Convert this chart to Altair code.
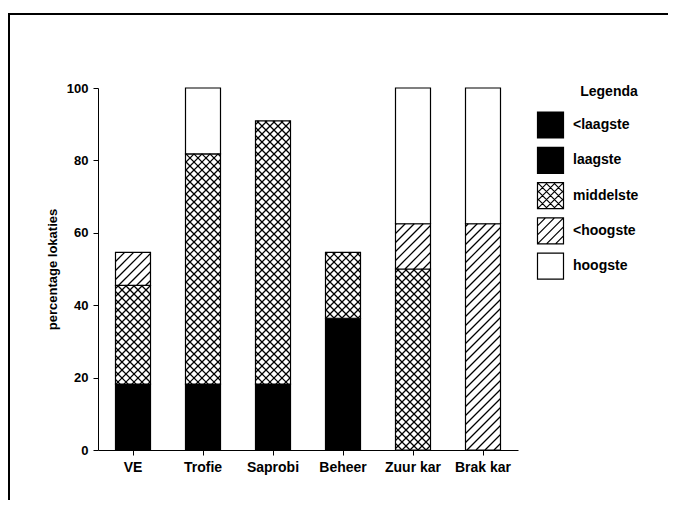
import math
import altair as alt
import pandas as pd

# ---------------- data ----------------
categories = ["VE", "Trofie", "Saprobi", "Beheer", "Zuur kar", "Brak kar"]
klassen = ["<laagste", "laagste", "middelste", "<hoogste", "hoogste"]
v_lt_laagste = [0, 0, 0, 0, 0, 0]
v_laagste = [18.2, 18.2, 18.2, 36.4, 0, 0]
v_middelste = [27.3, 63.6, 72.7, 18.2, 50.0, 0]
v_lt_hoogste = [9.1, 0, 0, 0, 12.5, 62.5]
v_hoogste = [0, 18.2, 0, 0, 37.5, 37.5]
y_ticks = [0, 20, 40, 60, 80, 100]

# ---------------- layout / style ----------------
W, H = 420, 362
N = len(categories)
FONT = "Liberation Sans"
fills = ["black", "black", "white", "white", "white"]
patterns = {"middelste": [("/", 8), ("\\", 8)], "<hoogste": [("/", 9)]}

series = dict(zip(klassen, [v_lt_laagste, v_laagste, v_middelste, v_lt_hoogste, v_hoogste]))

# stacked segments
rows = []
for i, c in enumerate(categories):
    base = 0.0
    for k in klassen:
        v = series[k][i]
        if v > 0:
            rows.append({"cat": c, "idx": i, "klasse": k, "lo": base, "hi": base + v})
        base += v
seg = pd.DataFrame(rows)

# hatch lines, in data units (x: band units 0..N, y: percent)
sx, sy = W / N, H / 100.0


def hatch(X0, X1, Y0, Y1, d, p):
    out = []
    if d == "/":
        for k in range(math.ceil((Y0 - X1) / p), math.floor((Y1 - X0) / p) + 1):
            c = k * p
            lo, hi = max(X0, Y0 - c), min(X1, Y1 - c)
            if hi - lo > 0.4:
                out.append((lo, lo + c, hi, hi + c))
    else:
        for k in range(math.ceil((X0 + Y0) / p), math.floor((X1 + Y1) / p) + 1):
            c = k * p
            lo, hi = max(X0, c - Y1), min(X1, c - Y0)
            if hi - lo > 0.4:
                out.append((lo, c - lo, hi, c - hi))
    return out


hrows = []
for r in rows:
    if r["klasse"] not in patterns:
        continue
    X0, X1 = (r["idx"] + 0.25) * sx, (r["idx"] + 0.75) * sx
    Y0, Y1 = r["lo"] * sy, r["hi"] * sy
    for d, p in patterns[r["klasse"]]:
        for (a, b, c2, e) in hatch(X0, X1, Y0, Y1, d, p):
            hrows.append({"x1": a / sx, "lo": b / sy, "x2": c2 / sx, "hi": e / sy})
hdf = pd.DataFrame(hrows)


# legend symbol paths (unit square [-1,1])
def sym_path(pats, half=13.0):
    s = "M-1,-1L1,-1L1,1L-1,1Z"
    for d, p in pats:
        pu = p / half
        kmax = int(2 / pu) + 1
        for k in range(-kmax, kmax + 1):
            c = k * pu
            if d == "/":  # screen: x + y = c
                a, b = max(-1, c - 1), min(1, c + 1)
                if b - a > 0.05:
                    s += f"M{a:.3f},{c - a:.3f}L{b:.3f},{c - b:.3f}"
            else:  # screen: y - x = c
                a, b = max(-1, -1 - c), min(1, 1 - c)
                if b - a > 0.05:
                    s += f"M{a:.3f},{a + c:.3f}L{b:.3f},{b + c:.3f}"
    return s


paths = [sym_path(patterns.get(k, [])) for k in klassen]
leg = pd.DataFrame({"klasse": klassen, "ly": [37 + 35.3 * i for i in range(len(klassen))]})

fill_scale = alt.Scale(domain=klassen, range=fills)
y_scale = alt.Scale(domain=[0, 100], nice=False)
y_axis = alt.Axis(title="percentage lokaties", values=y_ticks, grid=False,
                  labelFontSize=13, labelPadding=5, titleFontSize=13, titlePadding=7)

bars = alt.Chart(seg).mark_bar(stroke="black", strokeWidth=1.2, strokeJoin="miter").encode(
    x=alt.X("cat:N", sort=categories,
            scale=alt.Scale(paddingInner=0.5, paddingOuter=0.25),
            axis=alt.Axis(title=None, labelAngle=0, labelFontSize=14, labelPadding=5)),
    y=alt.Y("lo:Q", scale=y_scale, axis=y_axis),
    y2="hi:Q",
    fill=alt.Fill("klasse:N", scale=fill_scale, legend=None),
)

hatch_layer = alt.Chart(hdf).mark_rule(color="black", strokeWidth=1.25).encode(
    x=alt.X("x1:Q", scale=alt.Scale(domain=[0, N], nice=False, zero=False), axis=None),
    x2="x2:Q",
    y=alt.Y("lo:Q", scale=y_scale, axis=y_axis),
    y2="hi:Q",
)

leg_pts = alt.Chart(leg).mark_point(filled=True, opacity=1, stroke="black", strokeWidth=1.2).encode(
    x=alt.value(452.5),
    y=alt.Y("ly:Q", scale=None),
    fill=alt.Fill("klasse:N", scale=fill_scale, legend=None),
    shape=alt.Shape("klasse:N", scale=alt.Scale(domain=klassen, range=paths), legend=None),
    size=alt.value(676),
)

leg_txt = alt.Chart(leg).mark_text(align="left", baseline="middle", font=FONT,
                                   fontSize=14, fontWeight="bold", color="black").encode(
    x=alt.value(475),
    y=alt.Y("ly:Q", scale=None),
    text="klasse:N",
)

leg_title = alt.Chart(pd.DataFrame({"t": ["Legenda"]})).mark_text(
    align="center", baseline="middle", font=FONT, fontSize=14, fontWeight="bold", color="black"
).encode(x=alt.value(511), y=alt.value(4), text="t:N")

dummy = pd.DataFrame({"a": [0]})
frame_top = alt.Chart(dummy).mark_rule(color="black", strokeWidth=2).encode(
    x=alt.value(-90), x2=alt.value(600), y=alt.value(-74))
frame_left = alt.Chart(dummy).mark_rule(color="black", strokeWidth=2).encode(
    x=alt.value(-89), y=alt.value(-75), y2=alt.value(440))

chart = alt.layer(bars, hatch_layer, leg_pts, leg_txt, leg_title, frame_top, frame_left).resolve_scale(
    x="independent"
).properties(
    width=W, height=H,
    autosize=alt.AutoSizeParams(type="none"),
    padding={"left": 90, "top": 80, "right": 150, "bottom": 50},
    background="white",
).configure_view(stroke=None).configure_axis(
    domainColor="black", tickColor="black", labelColor="black", titleColor="black",
    labelFont=FONT, titleFont=FONT, labelFontWeight="bold", titleFontWeight="bold",
    tickSize=5, domainWidth=1, tickWidth=1,
)

chart.save("out.html", embed_options={"renderer": "svg", "actions": False})
